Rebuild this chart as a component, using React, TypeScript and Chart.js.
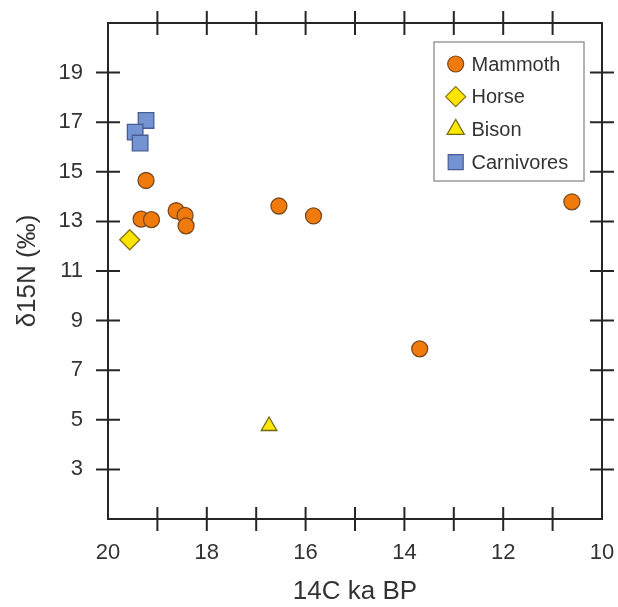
import React, { useEffect, useRef } from 'react';
import { Chart, registerables } from 'chart.js';

Chart.register(...registerables);

// ---- data ----
const mammothAge = [19.23, 19.33, 19.12, 18.62, 18.44, 18.42, 16.54, 15.84, 13.69, 10.61];
const mammothN = [14.65, 13.09, 13.07, 13.43, 13.24, 12.82, 13.62, 13.22, 7.86, 13.79];
const horseAge = [19.56];
const horseN = [12.26];
const bisonAge = [16.74];
const bisonN = [4.75];
const carnAge = [19.23, 19.45, 19.35];
const carnN = [17.07, 16.6, 16.16];

const seriesLabels = ['Mammoth', 'Horse', 'Bison', 'Carnivores'];
const xTickMarks = [11, 12, 13, 14, 15, 16, 17, 18, 19];
const yTickMarks = [3, 5, 7, 9, 11, 13, 15, 17, 19];
const xTitle = '14C ka BP';
const yTitle = 'δ15N (‰)';

const FONT = "'Liberation Sans', Arial, Helvetica, sans-serif";
const TEXT = '#333333';
const LINE = '#262626';

const toPts = (xs: number[], ys: number[]) => xs.map((x, i) => ({ x, y: ys[i] }));

function drawShape(ctx: CanvasRenderingContext2D, style: string, x: number, y: number, r: number) {
  ctx.beginPath();
  if (style === 'circle') {
    ctx.arc(x, y, r, 0, Math.PI * 2);
  } else if (style === 'rectRot') {
    ctx.moveTo(x - r, y);
    ctx.lineTo(x, y - r);
    ctx.lineTo(x + r, y);
    ctx.lineTo(x, y + r);
    ctx.closePath();
  } else if (style === 'triangle') {
    for (let k = 0; k < 3; k++) {
      const a = (k * 2 * Math.PI) / 3;
      const px = x + Math.sin(a) * r;
      const py = y - Math.cos(a) * r;
      if (k === 0) ctx.moveTo(px, py);
      else ctx.lineTo(px, py);
    }
    ctx.closePath();
  } else {
    const s = Math.SQRT1_2 * r;
    ctx.rect(x - s, y - s, 2 * s, 2 * s);
  }
  ctx.fill();
  ctx.stroke();
}

const framePlugin = {
  id: 'frameTicks',
  beforeDatasetsDraw(chart: any) {
    const { ctx, chartArea: a, scales } = chart;
    const half = 12;
    ctx.save();
    ctx.strokeStyle = LINE;
    ctx.lineWidth = 2;
    ctx.strokeRect(a.left, a.top, a.right - a.left, a.bottom - a.top);
    ctx.beginPath();
    xTickMarks.forEach((v) => {
      const px = scales.x.getPixelForValue(v);
      ctx.moveTo(px, a.bottom - half);
      ctx.lineTo(px, a.bottom + half);
      ctx.moveTo(px, a.top - half);
      ctx.lineTo(px, a.top + half);
    });
    yTickMarks.forEach((v) => {
      const py = scales.y.getPixelForValue(v);
      ctx.moveTo(a.left - half, py);
      ctx.lineTo(a.left + half, py);
      ctx.moveTo(a.right - half, py);
      ctx.lineTo(a.right + half, py);
    });
    ctx.stroke();
    ctx.restore();
  },
};

const legendPlugin = {
  id: 'boxLegend',
  afterDatasetsDraw(chart: any) {
    const { ctx, chartArea: a } = chart;
    const w = 150;
    const h = 139;
    const left = a.right - 18 - w;
    const top = a.top + 19;
    ctx.save();
    ctx.fillStyle = '#ffffff';
    ctx.fillRect(left, top, w, h);
    ctx.strokeStyle = '#9a9a9a';
    ctx.lineWidth = 1.5;
    ctx.strokeRect(left, top, w, h);
    const legendRadius: Record<string, number> = { circle: 8, rectRot: 10, triangle: 10, rect: 10.6 };
    chart.data.datasets.forEach((ds: any, i: number) => {
      const cy = top + 22 + i * 32.7;
      ctx.fillStyle = ds.backgroundColor;
      ctx.strokeStyle = ds.borderColor;
      ctx.lineWidth = 1.2;
      drawShape(ctx, ds.pointStyle, left + 21.7, cy, legendRadius[ds.pointStyle] || 8);
      ctx.fillStyle = TEXT;
      ctx.font = `20px ${FONT}`;
      ctx.textBaseline = 'middle';
      ctx.textAlign = 'left';
      ctx.fillText(ds.label, left + 37.5, cy + 1);
    });
    ctx.restore();
  },
};

const zeroPad = (s: any) => {
  s.paddingTop = 0;
  s.paddingBottom = 0;
  s.paddingLeft = 0;
  s.paddingRight = 0;
};

export default function App() {
  const ref = useRef<HTMLCanvasElement | null>(null);

  useEffect(() => {
    if (!ref.current) return;
    const chart = new Chart(ref.current, {
      type: 'scatter',
      data: {
        datasets: [
          {
            label: seriesLabels[0],
            data: toPts(mammothAge, mammothN),
            pointStyle: 'circle',
            pointRadius: 8,
            backgroundColor: '#F07A0C',
            borderColor: '#7C4A1E',
            borderWidth: 1.3,
          },
          {
            label: seriesLabels[1],
            data: toPts(horseAge, horseN),
            pointStyle: 'rectRot',
            pointRadius: 10,
            backgroundColor: '#FFE400',
            borderColor: '#857412',
            borderWidth: 1.3,
          },
          {
            label: seriesLabels[2],
            data: toPts(bisonAge, bisonN),
            pointStyle: 'triangle',
            pointRadius: 9,
            backgroundColor: '#FFE800',
            borderColor: '#6E6A1E',
            borderWidth: 1.3,
          },
          {
            label: seriesLabels[3],
            data: toPts(carnAge, carnN),
            pointStyle: 'rect',
            pointRadius: 11,
            backgroundColor: '#7393D3',
            borderColor: '#485C92',
            borderWidth: 1.3,
          },
        ],
      } as any,
      options: {
        animation: false,
        responsive: false,
        maintainAspectRatio: false,
        layout: { padding: { top: 23, right: 16, left: 0, bottom: 0 } },
        plugins: {
          legend: { display: false },
          tooltip: { enabled: false },
        },
        scales: {
          x: {
            type: 'linear',
            position: 'bottom',
            reverse: true,
            min: 10,
            max: 20,
            afterFit: (s: any) => {
              s.height = 88;
              zeroPad(s);
            },
            grid: { display: false, drawTicks: false },
            border: { display: false },
            ticks: {
              stepSize: 2,
              padding: 21,
              color: TEXT,
              font: { family: FONT, size: 22 },
              maxRotation: 0,
            },
            title: {
              display: true,
              text: xTitle,
              color: TEXT,
              font: { family: FONT, size: 26 },
              padding: { top: 0, bottom: 0 },
            },
          },
          y: {
            type: 'linear',
            position: 'left',
            min: 1,
            max: 21,
            afterFit: (s: any) => {
              s.width = 108;
              zeroPad(s);
            },
            grid: { display: false, drawTicks: false },
            border: { display: false },
            ticks: {
              stepSize: 2,
              padding: 25,
              color: TEXT,
              font: { family: FONT, size: 22 },
              callback: (v: any) => (v === 1 || v === 21 ? '' : String(v)),
            },
            title: {
              display: true,
              text: yTitle,
              color: TEXT,
              font: { family: FONT, size: 26 },
              padding: { top: 12, bottom: 0 },
            },
          },
        },
      } as any,
      plugins: [framePlugin, legendPlugin],
    });
    return () => chart.destroy();
  }, []);

  return (
    <div style={{ position: 'fixed', left: 0, top: 0, width: 618, height: 607, background: '#fff' }}>
      <canvas ref={ref} width={618} height={607} style={{ display: 'block' }} />
    </div>
  );
}
